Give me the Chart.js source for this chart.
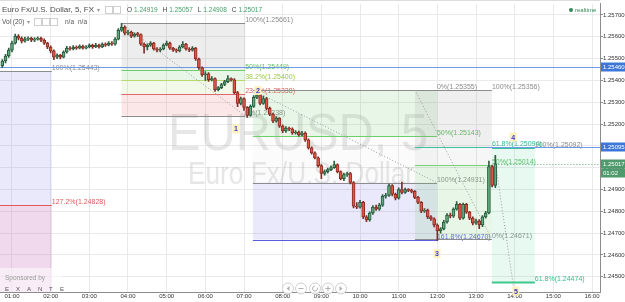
<!DOCTYPE html>
<html>
<head>
<meta charset="utf-8">
<script src="https://cdn.jsdelivr.net/npm/chart.js@4"></script>
<style>
  html, body { margin: 0; padding: 0; background: #fff; }
  canvas { display: block; }
</style>
</head>
<body>
<canvas id="chart" width="625" height="302"></canvas>
<script>
// 5 minute bars, first one at 00:45
const startHour = 0.75
const barMinutes = 5

const opens = [
  1.25467,1.25489,1.25512,1.25539,1.25571,1.25603,1.25593,1.25580,1.25589,1.25593,
  1.25584,1.25589,1.25593,1.25584,1.25571,1.25553,1.25535,1.25507,1.25516,1.25507,
  1.25530,1.25548,1.25544,1.25553,1.25548,1.25557,1.25548,1.25553,1.25562,1.25553,
  1.25562,1.25553,1.25566,1.25562,1.25571,1.25566,1.25589,1.25630,1.25643,1.25616,
  1.25621,1.25603,1.25612,1.25610,1.25566,1.25553,1.25562,1.25571,1.25544,1.25539,
  1.25544,1.25562,1.25571,1.25548,1.25539,1.25535,1.25553,1.25566,1.25544,1.25539,
  1.25548,1.25498,1.25458,1.25426,1.25430,1.25403,1.25408,1.25358,1.25367,1.25381,
  1.25394,1.25408,1.25403,1.25344,1.25294,1.25317,1.25276,1.25240,1.25281,1.25322,
  1.25331,1.25294,1.25317,1.25272,1.25245,1.25213,1.25227,1.25190,1.25168,1.25181,
  1.25177,1.25159,1.25163,1.25150,1.25159,1.25127,1.25091,1.25068,1.25045,1.25009,
  1.24973,1.24982,1.24991,1.25000,1.25014,1.24982,1.24950,1.24968,1.24973,1.24932,
  1.24823,1.24819,1.24841,1.24774,1.24760,1.24792,1.24819,1.24810,1.24828,1.24869,
  1.24873,1.24918,1.24878,1.24860,1.24900,1.24887,1.24900,1.24896,1.24891,1.24864,
  1.24841,1.24801,1.24805,1.24774,1.24765,1.24737,1.24710,1.24719,1.24751,1.24783,
  1.24778,1.24810,1.24832,1.24769,1.24832,1.24796,1.24769,1.24746,1.24756,1.24737,
  1.24774,1.24792,1.25005,1.24919
]
const highs = [
  1.25495,1.25520,1.25548,1.25580,1.25612,1.25610,1.25600,1.25598,1.25600,1.25598,
  1.25596,1.25600,1.25598,1.25590,1.25575,1.25558,1.25540,1.25522,1.25520,1.25536,
  1.25556,1.25555,1.25560,1.25558,1.25563,1.25562,1.25560,1.25568,1.25566,1.25570,
  1.25567,1.25572,1.25572,1.25578,1.25578,1.25596,1.25638,1.25661,1.25650,1.25630,
  1.25626,1.25618,1.25620,1.25614,1.25572,1.25568,1.25578,1.25575,1.25550,1.25550,
  1.25568,1.25580,1.25576,1.25552,1.25545,1.25560,1.25578,1.25570,1.25550,1.25555,
  1.25552,1.25502,1.25462,1.25440,1.25436,1.25418,1.25412,1.25372,1.25386,1.25400,
  1.25422,1.25412,1.25408,1.25350,1.25324,1.25320,1.25280,1.25288,1.25330,1.25340,
  1.25336,1.25328,1.25322,1.25278,1.25250,1.25234,1.25230,1.25196,1.25188,1.25186,
  1.25182,1.25170,1.25168,1.25166,1.25164,1.25132,1.25096,1.25072,1.25050,1.25014,
  1.24990,1.24998,1.25008,1.25030,1.25018,1.24986,1.24975,1.24980,1.24978,1.24936,
  1.24840,1.24850,1.24846,1.24780,1.24798,1.24826,1.24828,1.24836,1.24876,1.24882,
  1.24925,1.24922,1.24884,1.24908,1.24934,1.24906,1.24904,1.24902,1.24895,1.24868,
  1.24845,1.24812,1.24810,1.24780,1.24770,1.24742,1.24725,1.24758,1.24790,1.24792,
  1.24816,1.24845,1.24836,1.24838,1.24836,1.24800,1.24774,1.24764,1.24762,1.24780,
  1.24800,1.25030,1.25012,1.25057
]
const lows = [
  1.25458,1.25480,1.25505,1.25530,1.25566,1.25585,1.25572,1.25575,1.25582,1.25578,
  1.25578,1.25584,1.25578,1.25565,1.25545,1.25526,1.25495,1.25500,1.25498,1.25503,
  1.25525,1.25538,1.25540,1.25542,1.25544,1.25543,1.25544,1.25549,1.25547,1.25550,
  1.25548,1.25550,1.25556,1.25558,1.25560,1.25562,1.25585,1.25625,1.25608,1.25608,
  1.25596,1.25598,1.25602,1.25560,1.25525,1.25540,1.25556,1.25538,1.25530,1.25532,
  1.25540,1.25558,1.25542,1.25533,1.25528,1.25530,1.25549,1.25538,1.25532,1.25534,
  1.25492,1.25450,1.25418,1.25400,1.25395,1.25398,1.25350,1.25352,1.25362,1.25376,
  1.25390,1.25396,1.25338,1.25280,1.25288,1.25262,1.25230,1.25236,1.25276,1.25316,
  1.25288,1.25290,1.25266,1.25238,1.25206,1.25208,1.25184,1.25160,1.25162,1.25170,
  1.25152,1.25154,1.25144,1.25146,1.25120,1.25085,1.25062,1.25040,1.25002,1.24950,
  1.24966,1.24976,1.24986,1.24996,1.24976,1.24944,1.24940,1.24960,1.24926,1.24815,
  1.24812,1.24814,1.24766,1.24752,1.24755,1.24786,1.24804,1.24804,1.24822,1.24860,
  1.24868,1.24870,1.24852,1.24855,1.24880,1.24882,1.24890,1.24884,1.24858,1.24835,
  1.24794,1.24795,1.24766,1.24758,1.24728,1.24665,1.24700,1.24714,1.24746,1.24770,
  1.24772,1.24805,1.24762,1.24764,1.24790,1.24762,1.24738,1.24740,1.24720,1.24730,
  1.24768,1.24788,1.24912,1.24908
]
const closes = [
  1.25489,1.25512,1.25539,1.25571,1.25603,1.25593,1.25580,1.25589,1.25593,1.25584,
  1.25589,1.25593,1.25584,1.25571,1.25553,1.25535,1.25507,1.25516,1.25507,1.25530,
  1.25548,1.25544,1.25553,1.25548,1.25557,1.25548,1.25553,1.25562,1.25553,1.25562,
  1.25553,1.25566,1.25562,1.25571,1.25566,1.25589,1.25630,1.25643,1.25616,1.25621,
  1.25603,1.25612,1.25610,1.25566,1.25553,1.25562,1.25571,1.25544,1.25539,1.25544,
  1.25562,1.25571,1.25548,1.25539,1.25535,1.25553,1.25566,1.25544,1.25539,1.25548,
  1.25498,1.25458,1.25426,1.25430,1.25403,1.25408,1.25358,1.25367,1.25381,1.25394,
  1.25408,1.25403,1.25344,1.25294,1.25317,1.25276,1.25240,1.25281,1.25322,1.25331,
  1.25294,1.25317,1.25272,1.25245,1.25213,1.25227,1.25190,1.25168,1.25181,1.25177,
  1.25159,1.25163,1.25150,1.25159,1.25127,1.25091,1.25068,1.25045,1.25009,1.24973,
  1.24982,1.24991,1.25000,1.25014,1.24982,1.24950,1.24968,1.24973,1.24932,1.24823,
  1.24819,1.24841,1.24774,1.24760,1.24792,1.24819,1.24810,1.24828,1.24869,1.24873,
  1.24918,1.24878,1.24860,1.24900,1.24887,1.24900,1.24896,1.24891,1.24864,1.24841,
  1.24801,1.24805,1.24774,1.24765,1.24737,1.24710,1.24719,1.24751,1.24783,1.24778,
  1.24810,1.24832,1.24769,1.24832,1.24796,1.24769,1.24746,1.24756,1.24737,1.24774,
  1.24792,1.25005,1.24919,1.25017
]

const hourTicks = ['01:00','02:00','03:00','04:00','05:00','06:00','07:00','08:00',
  '09:00','10:00','11:00','12:00','13:00','14:00','15:00','16:00']

// fibonacci tools: time span (hours) and level prices
const fibLTime = [0.5, 2.03]
const fibLLevels = [1.25443, 1.24828, 1.24046]
const fibLNames = ['100%', '127.2%', '161.8%']
const fibATime = [3.83, 7.03]
const fibALevels = [1.25661, 1.25449, 1.25400, 1.25338, 1.25238]
const fibANames = ['100%', '50%', '38.2%', '23.6%', '0%']
const fibBTime = [7.23, 11.99]
const fibBLevels = [1.25355, 1.25143, 1.24931, 1.24670]
const fibBNames = ['0%', '50%', '100%', '161.8%']
const fibCTime = [11.42, 13.41]
const fibCLevels = [1.25356, 1.25094, 1.25014, 1.24671]
const fibCNames = ['100%', '61.8%', '50%', '0%']
const fibDTime = [13.41, 14.52]
const fibDLevels = [1.25092, 1.24474]
const fibDNames = ['100%', '61.8%']

const waveNames = ['1', '2', '3', '4', '5']
const waveTimes = [6.79, 7.36, 11.99, 13.96, 14.03]
const wavePrices = [1.25177, 1.25353, 1.24606, 1.25140, 1.24434]

const blueLine = 1.25460
const blueRay = 1.25095
const blueRayStart = 13.28
const lastPrice = 1.25017

const barTime = (i) => startHour + i * barMinutes / 60

const wickData = closes.map((c, i) => ({ x: barTime(i), y: [lows[i], highs[i]] }))
const bodyData = closes.map((c, i) => ({ x: barTime(i), y: [opens[i], c] }))
const up = closes.map((c, i) => c >= opens[i])

const FONT = '"Liberation Sans", Arial, sans-serif'

function line(ctx, x0, y0, x1, y1, color, width, dash) {
  ctx.save()
  ctx.strokeStyle = color
  ctx.lineWidth = width || 1
  ctx.setLineDash(dash || [])
  ctx.beginPath()
  ctx.moveTo(x0, y0)
  ctx.lineTo(x1, y1)
  ctx.stroke()
  ctx.restore()
}

function drawFib(ctx, X, Y, span, levels, names, lineCols, fillCols, textCols, labelX) {
  const x0 = X(span[0]), x1 = X(span[1])
  for (let i = 0; i < levels.length - 1; i++) {
    if (!fillCols[i]) continue
    const ya = Y(levels[i]), yb = Y(levels[i + 1])
    ctx.fillStyle = fillCols[i]
    ctx.fillRect(x0, Math.min(ya, yb), x1 - x0, Math.abs(yb - ya))
  }
  levels.forEach((p, i) => {
    const yy = Math.round(Y(p)) + 0.5
    line(ctx, x0, yy, x1, yy, lineCols[i], 1)
    ctx.fillStyle = textCols[i]
    ctx.font = '7px ' + FONT
    ctx.textAlign = 'left'
    ctx.textBaseline = 'alphabetic'
    ctx.fillText(names[i] + '(' + p.toFixed(5) + ')', labelX, yy - 2)
  })
}

const overlays = {
  id: 'overlays',
  beforeDatasetsDraw(chart) {
    const { ctx, chartArea: a, scales } = chart
    const X = (v) => scales.x.getPixelForValue(v)
    const Y = (v) => scales.y.getPixelForValue(v)
    ctx.save()
    ctx.beginPath()
    ctx.rect(a.left, a.top, a.right - a.left, a.bottom - a.top)
    ctx.clip()

    // watermark
    ctx.fillStyle = 'rgba(160,160,160,0.26)'
    ctx.textAlign = 'left'
    ctx.textBaseline = 'alphabetic'
    ctx.font = '52px ' + FONT
    ctx.fillText('EURUSD, 5', 168, 150, 260)
    ctx.font = '31px ' + FONT
    ctx.fillText('Euro Fx/U.S. Dollar', 188, 184, 226)

    drawFib(ctx, X, Y, fibLTime, fibLLevels, fibLNames,
      ['#8c8c8c', '#e05a5a', '#5a5ae0'],
      ['rgba(120,120,230,0.16)', 'rgba(200,120,190,0.28)'],
      ['#8c8c8c', '#e05a5a', '#5a5ae0'], X(fibLTime[1]))

    drawFib(ctx, X, Y, fibATime, fibALevels, fibANames,
      ['#8c8c8c', '#6ccf6c', '#b5d96e', '#e06a6a', '#8c8c8c'],
      ['rgba(140,140,140,0.16)', 'rgba(110,200,110,0.16)', 'rgba(180,220,120,0.16)', 'rgba(235,120,120,0.18)'],
      ['#8c8c8c', '#5cbf5c', '#9cc84f', '#e05a5a', '#8c8c8c'], X(fibATime[1]))

    drawFib(ctx, X, Y, fibBTime, fibBLevels, fibBNames,
      ['#8c8c8c', '#6ccf6c', '#8c8c8c', '#5a5ae0'],
      ['rgba(110,200,110,0.16)', 'rgba(200,200,200,0.08)', 'rgba(120,120,230,0.16)'],
      ['#8c8c8c', '#5cbf5c', '#8c8c8c', '#5a5ae0'], X(fibBTime[1]))

    drawFib(ctx, X, Y, fibCTime, fibCLevels, fibCNames,
      ['#8c8c8c', '#3cc0a0', '#7bd07b', '#8c8c8c'],
      ['rgba(140,140,140,0.14)', 'rgba(140,140,140,0.08)', 'rgba(110,200,110,0.16)'],
      ['#8c8c8c', '#35b894', '#5cbf5c', '#8c8c8c'], X(fibCTime[1]))

    drawFib(ctx, X, Y, fibDTime, fibDLevels, fibDNames,
      ['#3cc0a0', '#3cc88c'],
      ['rgba(90,210,160,0.14)'],
      ['#8c8c8c', '#35c08a'], X(fibDTime[1]))
    // thicker bottom edge of the last tool
    line(ctx, X(fibDTime[0]), Y(fibDLevels[1]), X(fibDTime[1]), Y(fibDLevels[1]), '#3cc88c', 2)

    // trend lines of the fib tools
    const dots = [1, 2]
    line(ctx, X(fibATime[0]), Y(fibALevels[0]), X(fibATime[1]), Y(fibALevels[4]), '#9a9a9a', 1, dots)
    line(ctx, X(fibBTime[0]), Y(fibBLevels[0]), X(fibBTime[1]), Y(fibBLevels[2]), '#9a9a9a', 1, dots)
    line(ctx, X(fibCTime[0]), Y(fibCLevels[0]), X(fibCTime[1]), Y(fibCLevels[3]), '#9a9a9a', 1, dots)
    line(ctx, X(13.48), Y(1.25050), X(13.98), Y(1.24440), '#9a9a9a', 1, dots)

    // horizontal lines
    const yb = Math.round(Y(blueLine)) + 0.5
    line(ctx, a.left, yb, a.right, yb, '#6b9be6', 1)
    const yr = Math.round(Y(blueRay)) + 0.5
    line(ctx, X(blueRayStart), yr, a.right, yr, '#6b9be6', 1)
    const yl = Math.round(Y(lastPrice)) + 0.5
    line(ctx, X(barTime(closes.length - 1)), yl, a.right, yl, '#5aa870', 1, [1, 2])
    ctx.restore()
  },
  afterDatasetsDraw(chart) {
    const { ctx, chartArea: a, scales } = chart
    const X = (v) => scales.x.getPixelForValue(v)
    const Y = (v) => scales.y.getPixelForValue(v)
    ctx.save()

    // wave point labels
    ctx.font = 'bold 7px ' + FONT
    ctx.textAlign = 'center'
    ctx.textBaseline = 'middle'
    waveNames.forEach((n, i) => {
      const px = X(waveTimes[i]), py = Y(wavePrices[i])
      ctx.fillStyle = 'rgba(255,240,180,0.9)'
      ctx.fillRect(px - 3.5, py - 4.5, 7, 9)
      ctx.fillStyle = '#3b3bd6'
      ctx.fillText(n, px, py + 0.5)
    })

    // sponsor block
    ctx.fillStyle = 'rgba(255,255,255,0.55)'
    ctx.fillRect(0, 268, 62, 24)
    ctx.textAlign = 'left'
    ctx.font = '6.5px ' + FONT
    ctx.fillStyle = '#9a9a9a'
    ctx.fillText('Sponsored by', 5, 278)
    ctx.font = '6px ' + FONT
    ctx.fillStyle = '#555'
    'EXANTE'.split('').forEach((ch, i) => ctx.fillText(ch, 5 + i * 11, 289))

    // navigation buttons
    const navX = [288, 301, 315, 328, 341]
    navX.forEach((cx, i) => {
      ctx.beginPath()
      ctx.arc(cx, 288.5, 5.5, 0, Math.PI * 2)
      ctx.fillStyle = 'rgba(255,255,255,0.85)'
      ctx.fill()
      ctx.strokeStyle = '#cfcfcf'
      ctx.lineWidth = 1
      ctx.stroke()
      ctx.strokeStyle = '#b0b0b0'
      ctx.fillStyle = '#b0b0b0'
      ctx.beginPath()
      if (i === 0) { ctx.moveTo(cx + 1.5, 286); ctx.lineTo(cx - 1.5, 288.5); ctx.lineTo(cx + 1.5, 291); ctx.fill() }
      if (i === 1) { ctx.moveTo(cx - 2.5, 288.5); ctx.lineTo(cx + 2.5, 288.5); ctx.stroke() }
      if (i === 2) { ctx.arc(cx, 288.5, 2.5, -0.3, Math.PI * 1.5); ctx.stroke() }
      if (i === 3) { ctx.moveTo(cx - 2.5, 288.5); ctx.lineTo(cx + 2.5, 288.5); ctx.moveTo(cx, 286); ctx.lineTo(cx, 291); ctx.stroke() }
      if (i === 4) { ctx.moveTo(cx - 1.5, 286); ctx.lineTo(cx + 1.5, 288.5); ctx.lineTo(cx - 1.5, 291); ctx.fill() }
    })
    ctx.restore()
  },
  afterDraw(chart) {
    const { ctx, chartArea: a, scales } = chart
    const Y = (v) => scales.y.getPixelForValue(v)
    ctx.save()
    // top border
    line(ctx, 0, 0.5, a.right, 0.5, '#dcdcdc', 1)

    // price boxes on the axis
    const box = (price, bg, text, dy) => {
      const yy = Math.round(Y(price)) + (dy || 0)
      ctx.fillStyle = bg
      ctx.fillRect(a.right + 1, yy - 4.5, 24, 9)
      ctx.fillStyle = '#fff'
      ctx.font = '6px ' + FONT
      ctx.textAlign = 'left'
      ctx.textBaseline = 'middle'
      ctx.fillText(text, a.right + 3, yy + 0.5)
    }
    box(blueLine, '#3d78d8', blueLine.toFixed(5))
    box(blueRay, '#3d78d8', blueRay.toFixed(5))
    box(lastPrice, '#4f9a6c', lastPrice.toFixed(5))
    box(lastPrice, '#4f9a6c', '01:02', 9)

    // header
    ctx.textAlign = 'left'
    ctx.textBaseline = 'middle'
    ctx.font = '8px ' + FONT
    ctx.fillStyle = '#4d4d4d'
    ctx.fillText('Euro Fx/U.S. Dollar, 5, FX', 2, 10)
    ctx.font = '6px ' + FONT
    ctx.fillStyle = '#999'
    ctx.fillText('\u25BE', 97, 10)
    ctx.fillText('\u25BE', 27, 22)
    ctx.strokeStyle = '#cfcfcf'
    ctx.lineWidth = 1
    ;[105.5, 113.5].forEach((bx) => ctx.strokeRect(bx, 6.5, 7, 7))
    ;[34.5, 42.5, 50.5].forEach((bx) => ctx.strokeRect(bx, 18.5, 7, 7))

    const ohlc = [['O', '1.24919'], ['H', '1.25057'], ['L', '1.24908'], ['C', '1.25017']]
    let hx = 127
    ctx.font = '6.5px ' + FONT
    ohlc.forEach(([k, v]) => {
      ctx.fillStyle = '#444'
      ctx.fillText(k, hx, 10)
      hx += ctx.measureText(k).width + 2
      ctx.fillStyle = '#3f9f68'
      ctx.fillText(v, hx, 10)
      hx += ctx.measureText(v).width + 5
    })

    ctx.font = '6.5px ' + FONT
    ctx.fillStyle = '#555'
    ctx.fillText('Vol (20)', 2, 22)
    ctx.fillText('n/a', 65, 22)
    ctx.fillText('n/a', 78, 22)

    // realtime flag
    ctx.fillStyle = '#2e8b57'
    ctx.beginPath()
    ctx.arc(571, 10, 2, 0, Math.PI * 2)
    ctx.fill()
    ctx.font = '6px ' + FONT
    ctx.fillText('realtime', 575, 10.5)
    ctx.restore()
  }
}

new Chart(document.getElementById('chart'), {
  type: 'bar',
  data: {
    datasets: [
      {
        label: 'bodies',
        data: bodyData,
        order: 0,
        grouped: false,
        barThickness: 3,
        minBarLength: 1,
        borderSkipped: false,
        borderWidth: 1,
        backgroundColor: up.map((u) => (u ? '#63ab7f' : '#e0564a')),
        borderColor: up.map((u) => (u ? '#24593a' : '#8e2a20'))
      },
      {
        label: 'wicks',
        data: wickData,
        order: 1,
        grouped: false,
        barThickness: 1,
        borderWidth: 0,
        backgroundColor: up.map((u) => (u ? '#2f5f42' : '#7a3028'))
      }
    ]
  },
  options: {
    responsive: false,
    animation: false,
    layout: { padding: 0 },
    plugins: { legend: { display: false }, tooltip: { enabled: false } },
    scales: {
      x: {
        type: 'linear',
        min: 0.69,
        max: 16.206,
        offset: false,
        grid: { color: '#e9e9e9', offset: false, drawTicks: false },
        border: { color: '#8c8c8c' },
        ticks: {
          stepSize: 1,
          includeBounds: false,
          autoSkip: false,
          maxRotation: 0,
          padding: 1,
          color: '#333',
          font: { size: 6, family: FONT },
          callback: (v) => hourTicks[v - 1]
        },
        afterFit: (s) => { s.height = 10 }
      },
      y: {
        type: 'linear',
        position: 'right',
        min: 1.24430,
        max: 1.25752,
        grid: { color: '#e9e9e9', drawTicks: true, tickLength: 3, tickColor: '#8c8c8c' },
        border: { color: '#8c8c8c' },
        ticks: {
          stepSize: 0.001,
          includeBounds: false,
          padding: 0,
          color: '#333',
          font: { size: 6, family: FONT },
          callback: (v) => v.toFixed(5)
        },
        afterFit: (s) => { s.width = 25 }
      }
    }
  },
  plugins: [overlays]
})
</script>
</body>
</html>
